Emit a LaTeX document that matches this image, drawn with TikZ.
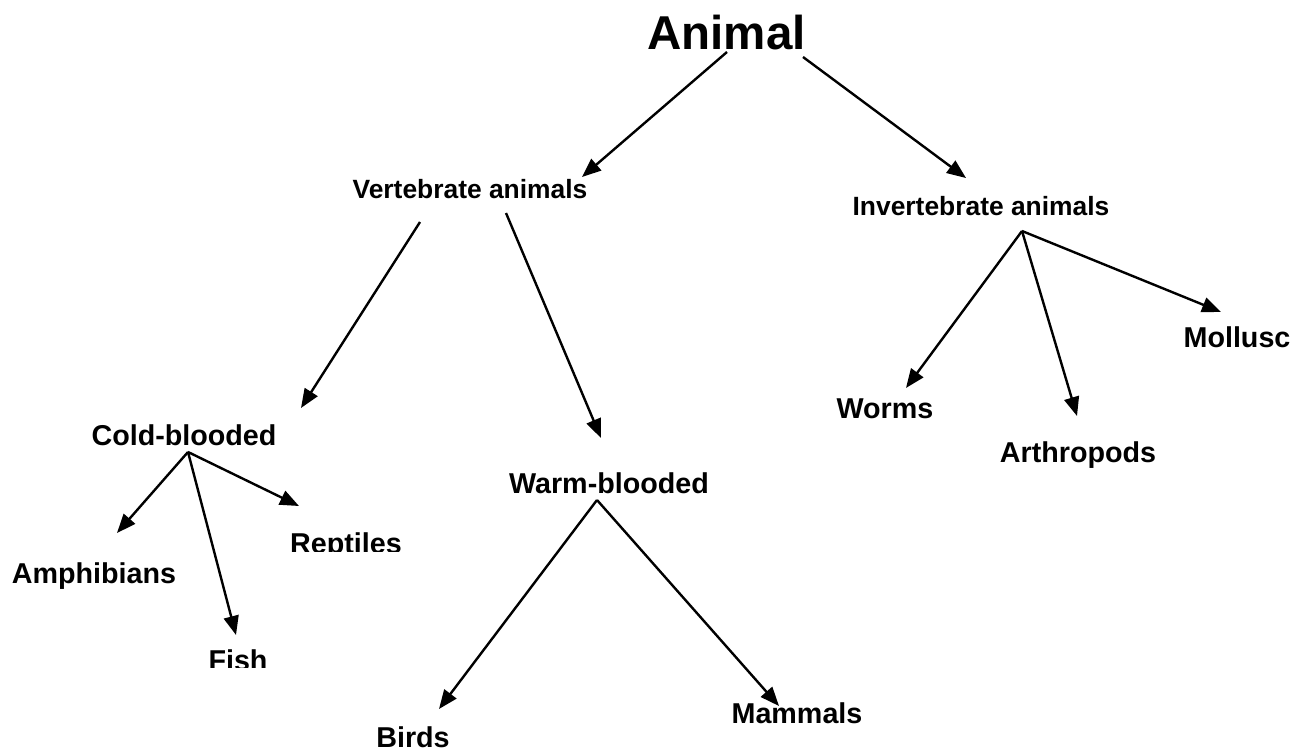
\documentclass[tikz,border=0pt]{standalone}
\usepackage{fontspec}
\setmainfont{Liberation Sans}
\usetikzlibrary{arrows.meta}
\begin{document}
\begin{tikzpicture}[x=1pt,y=-1pt,
  lbl/.style={font=\bfseries\fontsize{28.7}{30}\selectfont, anchor=base, inner sep=0pt},
  lblm/.style={font=\bfseries\fontsize{26.4}{28}\selectfont, anchor=base, inner sep=0pt},
  lbll/.style={font=\bfseries\fontsize{47.5}{50}\selectfont, anchor=base, inner sep=0pt},
  conn/.style={line width=2.4pt, -{Triangle[length=19pt,width=15pt]}}]
\useasboundingbox (0,0) rectangle (1295,754);
% labels
\node[lbll] (animal) at (726.5,50) {Animal};
\node[lblm] (vert) at (470,198) {Vertebrate animals};
\node[lblm] (invert) at (981,215) {Invertebrate animals};
\node[lbl] (cold) at (184,445) {Cold-blooded};
\node[lbl] (warm) at (609,493) {Warm-blooded};
\node[lbl] (amph) at (94,583) {Amphibians};
\begin{scope}
\clip (280,500) rectangle (420,551);
\node[lbl] (rept) at (346,553) {Reptiles};
\end{scope}
\begin{scope}
\clip (190,640) rectangle (290,667);
\node[lbl] (fish) at (238,670) {Fish};
\end{scope}
\node[lbl] (birds) at (413,747) {Birds};
\node[lbl] (mamm) at (797,723) {Mammals};
\node[lbl] (worms) at (885,418) {Worms};
\node[lbl] (arth) at (1078,462) {Arthropods};
\node[lbl] (moll) at (1237,347) {Mollusc};
% connector end points
\coordinate (animalL) at (727,52);
\coordinate (animalR) at (803,57);
\coordinate (vertTip) at (582,177);
\coordinate (invertTip) at (966,178);
\coordinate (vertL) at (420,222);
\coordinate (vertR) at (506,213);
\coordinate (coldTip) at (301,408);
\coordinate (warmTip) at (601,438);
\coordinate (invertO) at (1022,231);
\coordinate (wormsTip) at (906,388);
\coordinate (arthTip) at (1077,416);
\coordinate (mollTip) at (1221,312);
\coordinate (coldO) at (188,452);
\coordinate (amphTip) at (117,533);
\coordinate (fishTip) at (236,635);
\coordinate (reptTip) at (299,506);
\coordinate (warmO) at (597,500);
\coordinate (birdsTip) at (439,709);
\coordinate (mammTip) at (779,706);
% connectors
\draw[conn] (animalL) -- (vertTip);
\draw[conn] (animalR) -- (invertTip);
\draw[conn] (vertL) -- (coldTip);
\draw[conn] (vertR) -- (warmTip);
\draw[conn] (invertO) -- (wormsTip);
\draw[conn] (invertO) -- (arthTip);
\draw[conn] (invertO) -- (mollTip);
\draw[conn] (coldO) -- (amphTip);
\draw[conn] (coldO) -- (fishTip);
\draw[conn] (coldO) -- (reptTip);
\draw[conn] (warmO) -- (birdsTip);
\draw[conn] (warmO) -- (mammTip);
\end{tikzpicture}
\end{document}
